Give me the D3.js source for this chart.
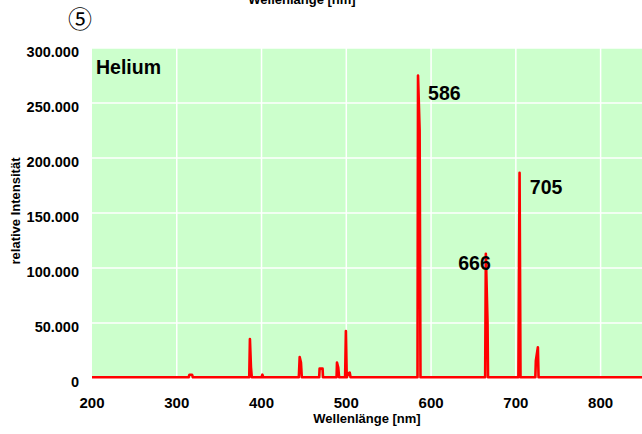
<!DOCTYPE html>
<html>
<head>
	<meta charset="utf-8" />
	<title>Helium Spektrum</title>
	<script src="https://cdn.jsdelivr.net/npm/d3@7"></script>
	<style>
		body { margin: 0; background: #fff; }
		svg text { font-family: "Liberation Sans", Arial, sans-serif; font-weight: bold; fill: #000; }
	</style>
</head>
<body>
	<svg id="chart" width="642" height="434"></svg>
	<script>
		// spectrum samples (nm, relative intensity)
		var wavelengths = [200, 314, 315, 318, 319,
			385.5, 386.3, 387.5, 388.5,
			400, 401, 402,
			444, 445, 446.5, 447.5,
			468, 468.5, 472, 472.5,
			488.5, 489, 490.5, 491.5,
			498.6, 499.5, 500.5, 502, 504, 505,
			584, 584.6, 586.5, 587.5,
			663.8, 664.6, 666.6, 667.2,
			703, 704.4, 705.5,
			723, 723.6, 726, 726.8,
			850];
		var intensity = [700, 700, 3000, 3000, 700,
			700, 35500, 10000, 700,
			700, 3000, 700,
			700, 19000, 14000, 700,
			700, 8500, 8500, 700,
			700, 14000, 9500, 700,
			700, 42700, 700, 4000, 5000, 700,
			700, 275000, 225000, 700,
			700, 113000, 50000, 700,
			700, 186600, 700,
			700, 15700, 27900, 700,
			700];
		var peakLabels = ["586", "666", "705"];
		var peakPos = [[596.5, 252500], [632, 98200], [716.5, 167000]];
		var xTicks = [200, 300, 400, 500, 600, 700, 800];
		var yTicks = [0, 50000, 100000, 150000, 200000, 250000, 300000];

		var svg = d3.select("#chart");
		var plotL = 92, plotR = 643, plotT = 48, plotB = 378;
		var x = d3.scaleLinear().domain([200, 850]).range([plotL, plotR]);
		var y = d3.scaleLinear().domain([0, 300000]).range([plotB, plotT]);
		var de = d3.formatLocale({decimal: ",", thousands: ".", grouping: [3], currency: ["", " €"]});
		var fmt = de.format(",");

		svg.append("rect").attr("x", plotL).attr("y", plotT)
			.attr("width", plotR - plotL).attr("height", plotB - plotT)
			.attr("fill", "#ccffcc");

		// grid
		svg.selectAll(".vg").data(xTicks.slice(1)).enter().append("line")
			.attr("x1", d => x(d)).attr("x2", d => x(d))
			.attr("y1", plotT).attr("y2", plotB)
			.attr("stroke", "#fff").attr("stroke-width", 1.5);
		svg.selectAll(".hg").data(yTicks.slice(1)).enter().append("line")
			.attr("x1", plotL).attr("x2", plotR)
			.attr("y1", d => y(d)).attr("y2", d => y(d))
			.attr("stroke", "#fff").attr("stroke-width", 1.5);

		// axes labels
		svg.selectAll(".yt").data(yTicks).enter().append("text")
			.attr("x", 79).attr("y", d => y(d) + 9)
			.attr("text-anchor", "end").attr("font-size", 14.5)
			.text(d => fmt(d));
		svg.selectAll(".xt").data(xTicks).enter().append("text")
			.attr("x", d => x(d)).attr("y", 408)
			.attr("text-anchor", "middle").attr("font-size", 15)
			.text(d => d);

		svg.append("text").attr("x", 367).attr("y", 423)
			.attr("text-anchor", "middle").attr("font-size", 13)
			.text("Wellenlänge [nm]");
		svg.append("text").attr("x", 302).attr("y", 4)
			.attr("text-anchor", "middle").attr("font-size", 13)
			.text("Wellenlänge [nm]");
		svg.append("text").attr("transform", "translate(20,211) rotate(-90)")
			.attr("text-anchor", "middle").attr("font-size", 13)
			.text("relative Intensität");

		svg.append("text").attr("x", 80).attr("y", 28)
			.attr("text-anchor", "middle").attr("font-size", 24)
			.style("font-family", "'Noto Sans CJK JP', 'DejaVu Sans', sans-serif").style("font-weight", "normal")
			.text("⑤");

		// spectrum
		var pts = wavelengths.map((w, i) => [w, intensity[i]]);
		var line = d3.line().x(d => x(d[0])).y(d => y(d[1]));
		svg.append("path").datum(pts)
			.attr("d", line).attr("fill", "none")
			.attr("stroke", "#ff0000").attr("stroke-width", 2.6)
			.attr("stroke-linejoin", "round");

		svg.append("text").attr("x", 96).attr("y", 74)
			.attr("font-size", 19.5).text("Helium");
		svg.selectAll(".pl").data(peakLabels).enter().append("text")
			.attr("x", (d, i) => x(peakPos[i][0])).attr("y", (d, i) => y(peakPos[i][1]))
			.attr("font-size", 19.5).text(d => d);
	</script>
</body>
</html>
